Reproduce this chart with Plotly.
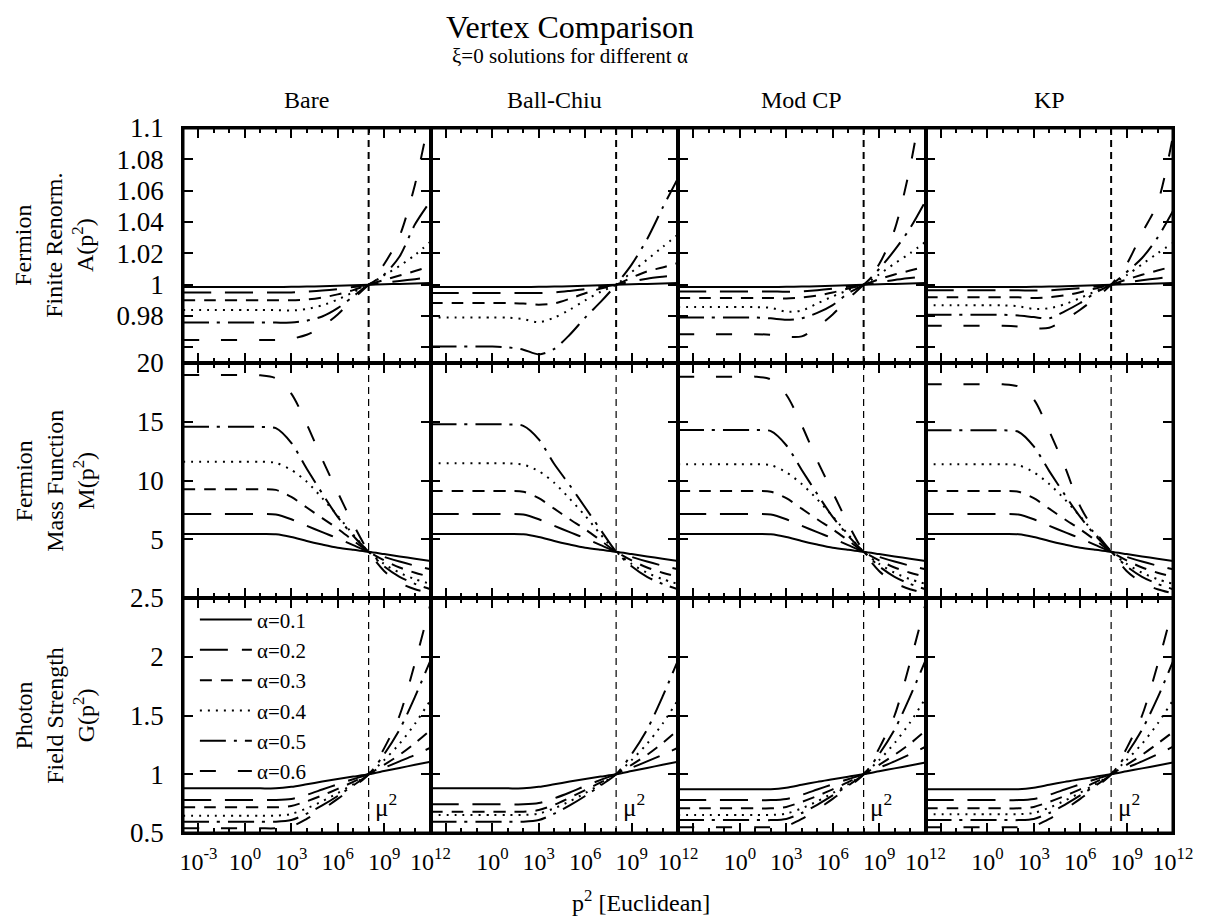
import math
import plotly.graph_objects as go
from plotly.subplots import make_subplots

# ---------------- data ----------------
P2 = [1e-4, 1e-2, 1e0, 1e1, 1e2, 1e3, 1e4, 1e5, 1e6, 1e7, 1e8, 1e9, 1e10, 1e11, 1e12]
MU2 = 1e8
ALPHAS = ["α=0.1", "α=0.2", "α=0.3", "α=0.4", "α=0.5", "α=0.6"]
VERTICES = ["Bare", "Ball-Chiu", "Mod CP", "KP"]
ROW_LABELS = ["Fermion<br>Finite Renorm.<br>A(p<sup>2</sup>)",
              "Fermion<br>Mass Function<br>M(p<sup>2</sup>)",
              "Photon<br>Field Strength<br>G(p<sup>2</sup>)"]

# Fermion finite renormalisation A(p^2)
A_BARE = [
    [0.9985, 0.9985, 0.9985, 0.9985, 0.9985, 0.9986, 0.9988, 0.999, 0.9993, 0.9996, 1.0, 1.0003, 1.0005, 1.0008, 1.001],
    [0.995, 0.995, 0.995, 0.995, 0.995, 0.995, 0.9955, 0.9962, 0.9972, 0.9985, 1.0, 1.0012, 1.0024, 1.0035, 1.0047],
    [0.990, 0.990, 0.990, 0.990, 0.990, 0.990, 0.9905, 0.9918, 0.9938, 0.9965, 1.0, 1.003, 1.0058, 1.0087, 1.0117],
    [0.9838, 0.9838, 0.9838, 0.9838, 0.9838, 0.9835, 0.9845, 0.9868, 0.9905, 0.9952, 1.0, 1.006, 1.012, 1.019, 1.0274],
    [0.9758, 0.9758, 0.9758, 0.9758, 0.9758, 0.9758, 0.977, 0.9797, 0.985, 0.9925, 1.0, 1.0064, 1.018, 1.0385, 1.0534],
    [0.9647, 0.9647, 0.9647, 0.9647, 0.9647, 0.9655, 0.968, 0.9733, 0.981, 0.991, 1.0, 1.013, 1.031, 1.064, 1.11],
]
A_BC = [
    [0.9985, 0.9985, 0.9985, 0.9985, 0.9985, 0.9986, 0.9988, 0.999, 0.9993, 0.9996, 1.0, 1.0003, 1.0005, 1.0008, 1.001],
    [0.9947, 0.9947, 0.9947, 0.9947, 0.9947, 0.9947, 0.995, 0.996, 0.9972, 0.9985, 1.0, 1.002, 1.0038, 1.005, 1.006],
    [0.9883, 0.9883, 0.9883, 0.9883, 0.988, 0.9872, 0.988, 0.991, 0.9945, 0.9975, 1.0, 1.0045, 1.0085, 1.011, 1.0139],
    [0.979, 0.979, 0.979, 0.979, 0.978, 0.976, 0.979, 0.984, 0.990, 0.9955, 1.0, 1.008, 1.016, 1.024, 1.032],
    [0.9605, 0.9605, 0.9605, 0.960, 0.9585, 0.9555, 0.959, 0.968, 0.979, 0.989, 1.0, 1.0128, 1.029, 1.049, 1.068],
    None,
]
A_MCP = [
    [0.9985, 0.9985, 0.9985, 0.9985, 0.9985, 0.9986, 0.9988, 0.999, 0.9993, 0.9996, 1.0, 1.0003, 1.0005, 1.0008, 1.001],
    [0.9957, 0.9957, 0.9957, 0.9957, 0.9957, 0.9955, 0.9958, 0.9965, 0.9975, 0.9987, 1.0, 1.0015, 1.003, 1.0042, 1.0053],
    [0.9915, 0.9915, 0.9915, 0.9915, 0.9915, 0.9912, 0.9918, 0.993, 0.995, 0.9975, 1.0, 1.0035, 1.0065, 1.009, 1.0117],
    [0.9857, 0.9857, 0.9857, 0.9857, 0.9852, 0.9828, 0.9835, 0.988, 0.9925, 0.9965, 1.0, 1.0065, 1.0135, 1.02, 1.0274],
    [0.979, 0.979, 0.979, 0.979, 0.9785, 0.9776, 0.9785, 0.982, 0.987, 0.9945, 1.0, 1.01, 1.022, 1.036, 1.0534],
    [0.9684, 0.9684, 0.9684, 0.9684, 0.968, 0.9668, 0.967, 0.973, 0.981, 0.991, 1.0, 1.013, 1.035, 1.075, 1.13],
]
A_KP = [
    [0.9985, 0.9985, 0.9985, 0.9985, 0.9985, 0.9986, 0.9988, 0.999, 0.9993, 0.9996, 1.0, 1.0003, 1.0005, 1.0008, 1.001],
    [0.9964, 0.9964, 0.9964, 0.9964, 0.9964, 0.9962, 0.9964, 0.997, 0.9978, 0.9988, 1.0, 1.0014, 1.0028, 1.004, 1.0053],
    [0.9919, 0.9919, 0.9919, 0.9919, 0.9919, 0.9915, 0.992, 0.9932, 0.9952, 0.9976, 1.0, 1.0033, 1.0063, 1.009, 1.0117],
    [0.9868, 0.9868, 0.9868, 0.9868, 0.9862, 0.9845, 0.985, 0.9875, 0.9915, 0.9958, 1.0, 1.006, 1.013, 1.02, 1.0267],
    [0.9808, 0.9808, 0.9808, 0.9808, 0.9803, 0.9793, 0.9785, 0.983, 0.9883, 0.995, 1.0, 1.008, 1.017, 1.03, 1.047],
    [0.9737, 0.9737, 0.9737, 0.9737, 0.9733, 0.9722, 0.9725, 0.9775, 0.984, 0.9915, 1.0, 1.013, 1.033, 1.052, 1.095],
]

# Fermion mass function M(p^2)
M_BARE = [
    [5.45, 5.45, 5.45, 5.45, 5.43, 5.2, 4.85, 4.55, 4.28, 4.1, 3.94, 3.74, 3.54, 3.34, 3.15],
    [7.15, 7.15, 7.15, 7.15, 7.1, 6.7, 6.15, 5.6, 5.08, 4.5, 3.94, 3.5, 3.1, 2.75, 2.45],
    [9.25, 9.25, 9.25, 9.25, 9.2, 8.6, 7.7, 6.8, 5.9, 4.9, 3.94, 3.2, 2.6, 2.15, 1.8],
    [11.6, 11.6, 11.6, 11.6, 11.5, 10.9, 9.9, 8.5, 7.0, 5.4, 3.94, 2.9, 2.15, 1.6, 1.2],
    [14.58, 14.58, 14.58, 14.55, 14.45, 13.2, 11.0, 8.9, 6.9, 5.3, 3.94, 2.7, 1.8, 1.2, 0.75],
    [18.98, 18.98, 18.98, 18.95, 18.7, 17.4, 14.8, 11.8, 9.0, 6.3, 3.94, 2.3, 1.3, 0.75, 0.4],
]
M_BC = [
    [5.45, 5.45, 5.45, 5.45, 5.43, 5.2, 4.85, 4.55, 4.28, 4.1, 3.94, 3.74, 3.54, 3.34, 3.15],
    [7.15, 7.15, 7.15, 7.15, 7.1, 6.7, 6.15, 5.6, 5.08, 4.5, 3.94, 3.5, 3.1, 2.75, 2.45],
    [9.1, 9.1, 9.1, 9.1, 9.05, 8.5, 7.6, 6.7, 5.85, 4.9, 3.94, 3.2, 2.6, 2.15, 1.8],
    [11.46, 11.46, 11.46, 11.46, 11.35, 10.8, 9.8, 8.45, 7.0, 5.4, 3.94, 2.9, 2.15, 1.6, 1.2],
    [14.78, 14.78, 14.78, 14.78, 14.65, 13.5, 11.4, 9.6, 7.7, 5.8, 3.94, 2.7, 1.8, 1.2, 0.75],
    None,
]
M_MCP = [
    [5.45, 5.45, 5.45, 5.45, 5.43, 5.2, 4.85, 4.55, 4.28, 4.1, 3.94, 3.74, 3.54, 3.34, 3.15],
    [7.15, 7.15, 7.15, 7.15, 7.1, 6.7, 6.15, 5.6, 5.08, 4.5, 3.94, 3.5, 3.1, 2.75, 2.45],
    [9.1, 9.1, 9.1, 9.1, 9.05, 8.5, 7.6, 6.7, 5.85, 4.9, 3.94, 3.2, 2.6, 2.15, 1.8],
    [11.38, 11.38, 11.38, 11.38, 11.3, 10.7, 9.7, 8.4, 6.95, 5.4, 3.94, 2.9, 2.15, 1.6, 1.2],
    [14.3, 14.3, 14.3, 14.3, 14.2, 13.0, 10.9, 8.85, 6.9, 5.3, 3.94, 2.7, 1.8, 1.2, 0.75],
    [18.84, 18.84, 18.84, 18.84, 18.6, 17.3, 14.7, 11.7, 9.0, 6.3, 3.94, 2.3, 1.3, 0.75, 0.4],
]
M_KP = [
    [5.45, 5.45, 5.45, 5.45, 5.43, 5.2, 4.85, 4.55, 4.28, 4.1, 3.94, 3.74, 3.54, 3.34, 3.15],
    [7.15, 7.15, 7.15, 7.15, 7.1, 6.7, 6.15, 5.6, 5.08, 4.5, 3.94, 3.5, 3.1, 2.75, 2.45],
    [9.1, 9.1, 9.1, 9.1, 9.05, 8.5, 7.6, 6.7, 5.85, 4.9, 3.94, 3.2, 2.6, 2.15, 1.8],
    [11.38, 11.38, 11.38, 11.38, 11.3, 10.7, 9.7, 8.4, 6.95, 5.4, 3.94, 2.9, 2.15, 1.6, 1.2],
    [14.27, 14.27, 14.27, 14.27, 14.15, 12.9, 10.8, 8.8, 6.9, 5.3, 3.94, 2.7, 1.8, 1.2, 0.75],
    [18.19, 18.19, 18.19, 18.19, 18.0, 16.9, 14.2, 11.2, 7.8, 5.6, 3.94, 2.3, 1.3, 0.75, 0.4],
]

# Photon field strength G(p^2)
G_BARE = [
    [0.88, 0.88, 0.88, 0.88, 0.88, 0.893, 0.915, 0.938, 0.96, 0.98, 1.0, 1.027, 1.054, 1.08, 1.107],
    [0.781, 0.781, 0.781, 0.781, 0.781, 0.79, 0.825, 0.87, 0.915, 0.958, 1.0, 1.055, 1.11, 1.165, 1.226],
    [0.719, 0.719, 0.719, 0.719, 0.719, 0.73, 0.77, 0.82, 0.875, 0.935, 1.0, 1.08, 1.165, 1.265, 1.377],
    [0.647, 0.647, 0.647, 0.647, 0.647, 0.662, 0.71, 0.77, 0.84, 0.915, 1.0, 1.12, 1.26, 1.43, 1.632],
    [0.596, 0.596, 0.596, 0.596, 0.596, 0.61, 0.665, 0.735, 0.815, 0.905, 1.0, 1.17, 1.38, 1.66, 1.97],
    [0.54, 0.54, 0.54, 0.54, 0.54, 0.555, 0.62, 0.70, 0.79, 0.89, 1.0, 1.22, 1.5, 1.95, 2.45],
]
G_BC = [
    [0.88, 0.88, 0.88, 0.88, 0.88, 0.893, 0.915, 0.938, 0.96, 0.98, 1.0, 1.027, 1.054, 1.08, 1.107],
    [0.744, 0.744, 0.744, 0.744, 0.744, 0.755, 0.795, 0.845, 0.9, 0.952, 1.0, 1.055, 1.11, 1.165, 1.226],
    [0.681, 0.681, 0.681, 0.681, 0.681, 0.695, 0.74, 0.8, 0.865, 0.93, 1.0, 1.08, 1.165, 1.265, 1.377],
    [0.653, 0.653, 0.653, 0.653, 0.653, 0.665, 0.71, 0.77, 0.84, 0.915, 1.0, 1.12, 1.26, 1.43, 1.632],
    [0.596, 0.596, 0.596, 0.596, 0.596, 0.61, 0.665, 0.735, 0.815, 0.905, 1.0, 1.17, 1.38, 1.66, 1.97],
    None,
]
G_MCP = [
    [0.872, 0.872, 0.872, 0.872, 0.872, 0.885, 0.91, 0.935, 0.957, 0.979, 1.0, 1.025, 1.05, 1.075, 1.10],
    [0.78, 0.78, 0.78, 0.78, 0.78, 0.79, 0.825, 0.87, 0.915, 0.958, 1.0, 1.055, 1.11, 1.17, 1.234],
    [0.71, 0.71, 0.71, 0.71, 0.71, 0.722, 0.765, 0.815, 0.872, 0.933, 1.0, 1.08, 1.165, 1.26, 1.37],
    [0.653, 0.653, 0.653, 0.653, 0.653, 0.665, 0.71, 0.77, 0.84, 0.915, 1.0, 1.12, 1.265, 1.44, 1.646],
    [0.61, 0.61, 0.61, 0.61, 0.61, 0.62, 0.67, 0.74, 0.82, 0.905, 1.0, 1.17, 1.38, 1.66, 1.97],
    [0.549, 0.549, 0.549, 0.549, 0.549, 0.56, 0.62, 0.70, 0.79, 0.89, 1.0, 1.22, 1.5, 1.95, 2.45],
]
G_KP = [
    [0.872, 0.872, 0.872, 0.872, 0.872, 0.885, 0.91, 0.935, 0.957, 0.979, 1.0, 1.025, 1.05, 1.075, 1.10],
    [0.78, 0.78, 0.78, 0.78, 0.78, 0.79, 0.825, 0.87, 0.915, 0.958, 1.0, 1.055, 1.11, 1.17, 1.234],
    [0.71, 0.71, 0.71, 0.71, 0.71, 0.722, 0.765, 0.815, 0.872, 0.933, 1.0, 1.08, 1.165, 1.26, 1.36],
    [0.66, 0.66, 0.66, 0.66, 0.66, 0.67, 0.715, 0.775, 0.843, 0.917, 1.0, 1.12, 1.26, 1.43, 1.63],
    [0.61, 0.61, 0.61, 0.61, 0.61, 0.62, 0.67, 0.74, 0.82, 0.905, 1.0, 1.17, 1.38, 1.65, 1.96],
    [0.549, 0.549, 0.549, 0.549, 0.549, 0.56, 0.62, 0.70, 0.79, 0.89, 1.0, 1.22, 1.5, 1.93, 2.42],
]

PANELS = [
    [A_BARE, A_BC, A_MCP, A_KP],
    [M_BARE, M_BC, M_MCP, M_KP],
    [G_BARE, G_BC, G_MCP, G_KP],
]

# axes
Y_RANGES = [[0.95, 1.1], [0.0, 20.0], [0.5, 2.5]]
Y_TICKVALS = [[0.96, 0.98, 1.0, 1.02, 1.04, 1.06, 1.08, 1.1],
              [0, 5, 10, 15, 20],
              [0.5, 1.0, 1.5, 2.0, 2.5]]
Y_TICKTEXT = [["", "0.98", "1", "1.02", "1.04", "1.06", "1.08", "1.1"],
              ["", "5", "10", "15", "20"],
              ["0.5", "1", "1.5", "2", "2.5"]]
X_MAJOR = [1e-3, 1e0, 1e3, 1e6, 1e9, 1e12]
X_MAJOR_TEXT = ["10<sup>-3</sup>", "10<sup>0</sup>", "10<sup>3</sup>",
                "10<sup>6</sup>", "10<sup>9</sup>", "10<sup>12</sup>"]
X_MINOR = [1e-4, 1e-2, 1e-1, 1e1, 1e2, 1e4, 1e5, 1e7, 1e8, 1e10, 1e11]

# ---------------- style ----------------
FONT = "Liberation Serif"
DASHES = ["solid", "28px,14px", "12px,9px", "2px,6px", "26px,8px,3px,8px", "16px,22px"]

fig = make_subplots(rows=3, cols=4, horizontal_spacing=0, vertical_spacing=0)

for r in range(3):
    for c in range(4):
        series = PANELS[r][c]
        for k, ys in enumerate(series):
            if ys is None:
                continue
            fig.add_trace(go.Scatter(
                x=P2, y=ys, mode="lines",
                line=dict(color="black", width=2, dash=DASHES[k], shape="spline", smoothing=0.8),
                name=ALPHAS[k], legendgroup=ALPHAS[k],
                showlegend=(r == 2 and c == 0),
                hoverinfo="skip",
            ), row=r + 1, col=c + 1)
        # renormalisation point mu^2
        fig.add_trace(go.Scatter(
            x=[MU2, MU2], y=Y_RANGES[r], mode="lines",
            line=dict(color="black", width=2 if r == 0 else 1.2, dash="7px,5px"),
            showlegend=False, hoverinfo="skip",
        ), row=r + 1, col=c + 1)

        idx = r * 4 + c + 1
        xa = "xaxis" if idx == 1 else f"xaxis{idx}"
        ya = "yaxis" if idx == 1 else f"yaxis{idx}"
        if r == 2:
            xtext = X_MAJOR_TEXT if c == 0 else [""] + X_MAJOR_TEXT[1:]
        else:
            xtext = [""] * len(X_MAJOR)
        fig.layout[xa].update(
            type="log", range=[-4, 12], showgrid=False, zeroline=False,
            showline=True, linecolor="black", linewidth=1.5, mirror="ticks",
            ticks="inside", ticklen=10, tickwidth=2, tickcolor="black",
            tickmode="array", tickvals=X_MAJOR, ticktext=xtext,
            tickfont=dict(family=FONT, size=24, color="black"),
            ticklabelstandoff=6,
            minor=dict(tickmode="array", tickvals=X_MINOR, ticks="inside",
                       ticklen=5, tickwidth=2, tickcolor="black", showgrid=False),
        )
        fig.layout[ya].update(
            range=Y_RANGES[r], showgrid=False, zeroline=False,
            showline=True, linecolor="black", linewidth=1.5, mirror="ticks",
            ticks="inside", ticklen=10, tickwidth=2, tickcolor="black",
            tickmode="array", tickvals=Y_TICKVALS[r],
            ticktext=Y_TICKTEXT[r] if c == 0 else [""] * len(Y_TICKVALS[r]),
            tickfont=dict(family=FONT, size=27, color="black"),
            ticklabelstandoff=12,
        )


def ann(text, x, y, size, **kw):
    d = dict(text=text, x=x, y=y, xref="paper", yref="paper", showarrow=False,
             xanchor="center", yanchor="middle", font=dict(family=FONT, size=size, color="black"))
    d.update(kw)
    return d


annotations = [
    ann("Vertex Comparison", 0.391, 1.1433, 32),
    ann("ξ=0 solutions for different α", 0.391, 1.1015, 21),
    ann("p<sup>2</sup> [Euclidean]", 0.4626, -0.097, 24),
]
for c, name in enumerate(VERTICES):
    annotations.append(ann(name, 0.125 + 0.25 * c, 1.0397, 24))
for r, lab in enumerate(ROW_LABELS):
    annotations.append(ann(lab, -0.130, 1 - (r + 0.5) / 3, 24, textangle=-90))
for c in range(4):
    idx = 8 + c + 1
    annotations.append(dict(text="μ<sup>2</sup>", x=math.log10(MU2) + 0.3, y=0.74,
                            xref=f"x{idx}", yref=f"y{idx}", xanchor="left", yanchor="middle",
                            showarrow=False, font=dict(family=FONT, size=25, color="black")))

# thick outer frame around the whole grid
fig.add_shape(type="rect", xref="paper", yref="paper", x0=0, x1=1, y0=0, y1=1,
              line=dict(color="black", width=3), layer="above")

# page body has an 8px margin: figure is sized/margined so that the plot area
# lands at x 183..1173, y 128..833 of the window
fig.update_layout(
    width=1199, height=910,
    margin=dict(l=175, r=34, t=120, b=85),
    paper_bgcolor="white", plot_bgcolor="white",
    font=dict(family=FONT, color="black"),
    annotations=annotations,
    showlegend=True,
    legend=dict(x=0.012, y=1 / 3 - 0.002, xanchor="left", yanchor="top",
                bgcolor="rgba(0,0,0,0)", borderwidth=0, tracegroupgap=0,
                itemwidth=52, font=dict(family=FONT, size=21, color="black")),
)

fig.write_html("out.html")
